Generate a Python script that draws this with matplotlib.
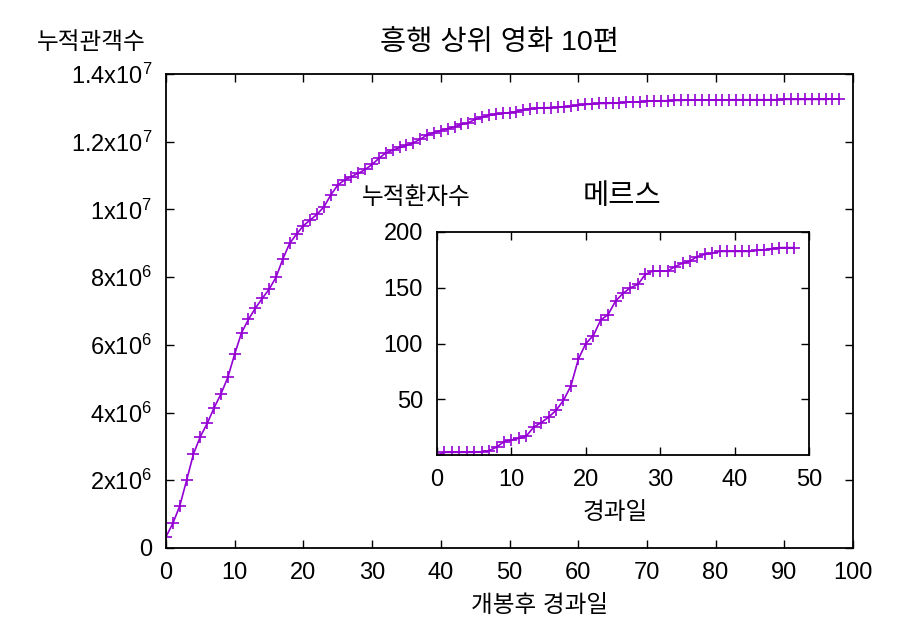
import numpy as np
import matplotlib
matplotlib.use('Agg')
import matplotlib.pyplot as plt

plt.rcParams['font.family'] = ['Liberation Sans', 'Noto Sans CJK KR']
plt.rcParams['mathtext.fontset'] = 'custom'
plt.rcParams['mathtext.rm'] = 'Liberation Sans'
plt.rcParams['mathtext.it'] = 'Liberation Sans:italic'
plt.rcParams['mathtext.default'] = 'rm'

# 흥행 상위 영화 10편 누적관객수 (일별)
movie_days = list(range(0, 99))
movie_total = [
    0.33e6, 0.73e6, 1.24e6, 2.00e6, 2.78e6, 3.29e6, 3.68e6, 4.14e6, 4.55e6, 5.04e6,
    5.73e6, 6.36e6, 6.75e6, 7.08e6, 7.37e6, 7.64e6, 7.99e6, 8.53e6, 9.00e6, 9.27e6,
    9.52e6, 9.69e6, 9.86e6, 10.08e6, 10.43e6, 10.72e6, 10.87e6, 10.97e6, 11.07e6, 11.18e6,
    11.33e6, 11.51e6, 11.67e6, 11.75e6, 11.83e6, 11.89e6, 11.97e6, 12.07e6, 12.20e6, 12.27e6,
    12.33e6, 12.39e6, 12.44e6, 12.51e6, 12.56e6, 12.66e6, 12.72e6, 12.78e6, 12.81e6, 12.84e6,
    12.86e6, 12.89e6, 12.94e6, 12.97e6, 12.99e6, 13.00e6, 13.01e6, 13.02e6, 13.03e6, 13.05e6,
    13.08e6, 13.10e6, 13.11e6, 13.13e6, 13.13e6, 13.14e6, 13.15e6, 13.17e6, 13.17e6, 13.18e6,
    13.20e6, 13.20e6, 13.21e6, 13.21e6, 13.22e6, 13.22e6, 13.23e6, 13.23e6, 13.23e6, 13.23e6,
    13.23e6, 13.23e6, 13.24e6, 13.24e6, 13.24e6, 13.24e6, 13.24e6, 13.24e6, 13.24e6, 13.24e6,
    13.25e6, 13.25e6, 13.25e6, 13.25e6, 13.25e6, 13.25e6, 13.25e6, 13.26e6, 13.26e6,
]

# 메르스 누적환자수
mers_days = list(range(0, 49))
mers_total = [
    0, 2.4, 2.4, 2.4, 2.4, 2.4, 3, 4, 7, 12,
    13.5, 15, 17, 25, 29, 34, 40, 49, 62, 86,
    100, 107, 121, 126, 138, 145, 150, 153, 162, 165,
    165, 165, 169, 172, 174, 178, 180, 181, 182.6, 182.6,
    182.6, 182.6, 182.6, 183.5, 184, 185, 186, 186, 186,
]

main_xticks = [0, 10, 20, 30, 40, 50, 60, 70, 80, 90, 100]
main_yticks = [0, 2e6, 4e6, 6e6, 8e6, 1e7, 1.2e7, 1.4e7]
main_ylabels = ['0', '2x10$^{6}$', '4x10$^{6}$', '6x10$^{6}$', '8x10$^{6}$',
                '1x10$^{7}$', '1.2x10$^{7}$', '1.4x10$^{7}$']
inset_xticks = [0, 10, 20, 30, 40, 50]
inset_yticks = [50, 100, 150, 200]

color = '#9400d3'
fs = 17
title_fs = 20.5

fig = plt.figure(figsize=(9, 6.3), dpi=100)
ax = fig.add_axes([166 / 900, 1 - 548 / 630, 687 / 900, 474 / 630])
ax.plot(movie_days, movie_total, color=color, lw=1.2, marker='+', ms=8, mew=1.2)
ax.set_xlim(0, 100)
ax.set_ylim(0, 1.4e7)
ax.set_xticks(main_xticks)
ax.set_yticks(main_yticks)
ax.set_yticklabels(main_ylabels)
ax.tick_params(direction='in', length=6, width=1, top=True, right=True,
               labelsize=fs, pad=10)
for s in ax.spines.values():
    s.set_linewidth(1.3)

# 메르스 inset
axi = fig.add_axes([437 / 900, 1 - 455 / 630, 372 / 900, 223 / 630])
axi.plot(mers_days, mers_total, color=color, lw=1.2, marker='+', ms=8, mew=1.2)
axi.set_xlim(0, 50)
axi.set_ylim(0, 200)
axi.set_xticks(inset_xticks)
axi.set_yticks(inset_yticks)
axi.tick_params(direction='in', length=6, width=1, top=True, right=True,
                labelsize=fs, pad=10)
for s in axi.spines.values():
    s.set_linewidth(1.3)

# 텍스트
fig.text(500 / 900, 1 - 43 / 630, '흥행 상위 영화 10편', fontsize=title_fs, ha='center', va='center')
fig.text(37 / 900, 1 - 43 / 630, '누적관객수', fontsize=fs, ha='left', va='center')
fig.text(540 / 900, 1 - 606 / 630, '개봉후 경과일', fontsize=fs, ha='center', va='center')
fig.text(416 / 900, 1 - 198 / 630, '누적환자수', fontsize=fs, ha='center', va='center')
fig.text(622 / 900, 1 - 197 / 630, '메르스', fontsize=title_fs, ha='center', va='center')
fig.text(615 / 900, 1 - 513 / 630, '경과일', fontsize=fs, ha='center', va='center')

fig.savefig('out.png', dpi=100)
